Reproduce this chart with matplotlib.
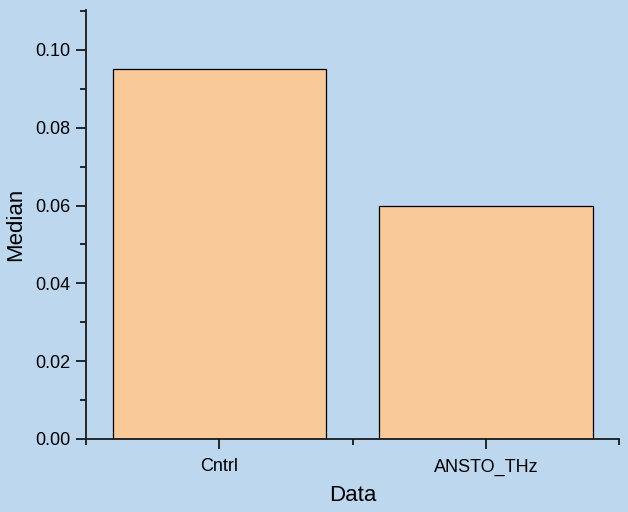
import matplotlib
matplotlib.use("Agg")
import matplotlib.pyplot as plt
from matplotlib.ticker import MultipleLocator, FixedLocator, FormatStrFormatter

categories = ["Cntrl", "ANSTO_THz"]
medians = [0.095, 0.060]

bg = "#BDD7EE"
bar_color = "#FAC99A"

plt.rcParams['font.family'] = ['Liberation Sans', 'DejaVu Sans']

fig = plt.figure(figsize=(6.28, 5.12), dpi=100, facecolor=bg)
ax = fig.add_axes([0.137, 0.1426, 0.849, 0.838], facecolor=bg)

x = list(range(len(categories)))
ax.bar(x, medians, width=0.8, color=bar_color, edgecolor="black", linewidth=0.9, zorder=2)

ax.set_xlim(-0.5, 1.5)
ax.set_ylim(0, 0.1103)
ax.set_xticks(x)
ax.set_xticklabels(categories)
ax.xaxis.set_minor_locator(FixedLocator([-0.5, 0.5, 1.5]))
ax.yaxis.set_major_locator(MultipleLocator(0.02))
ax.yaxis.set_minor_locator(MultipleLocator(0.01))
ax.yaxis.set_major_formatter(FormatStrFormatter("%.2f"))

for s in ["top", "right"]:
    ax.spines[s].set_visible(False)
for s in ["left", "bottom"]:
    ax.spines[s].set_linewidth(1.3)
    ax.spines[s].set_color("#1a1a1a")

ax.tick_params(axis="both", which="major", direction="out", length=7, width=1.3, labelsize=13, color="#1a1a1a")
ax.tick_params(axis="both", which="minor", direction="out", length=4, width=1.3, color="#1a1a1a")
ax.tick_params(axis="x", which="major", pad=7)
ax.tick_params(axis="y", which="major", pad=4)

ax.set_xlabel("Data", fontsize=16, labelpad=7)
ax.set_ylabel("Median", fontsize=16, labelpad=7)

fig.savefig("out.png", dpi=100, facecolor=bg)
